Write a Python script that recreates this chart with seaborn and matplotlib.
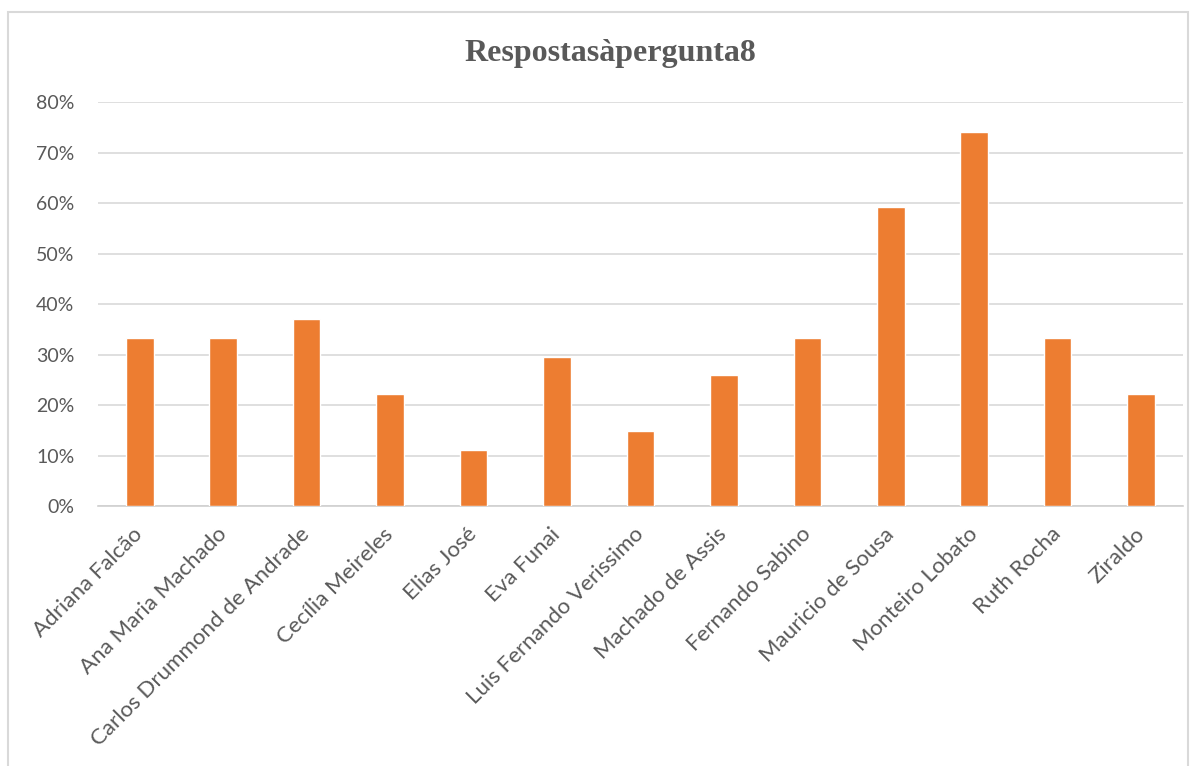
import matplotlib
matplotlib.use("Agg")
import matplotlib.pyplot as plt
from matplotlib.patches import Rectangle
from matplotlib.ticker import PercentFormatter
import seaborn as sns
import pandas as pd

autores = ["Adriana Falcão", "Ana Maria Machado", "Carlos Drummond de Andrade",
           "Cecília Meireles", "Elias José", "Eva Funai", "Luis Fernando Verissimo",
           "Machado de Assis", "Fernando Sabino", "Mauricio de Sousa",
           "Monteiro Lobato", "Ruth Rocha", "Ziraldo"]
percentuais = [33.3, 33.3, 37.0, 22.2, 11.1, 29.6, 14.8, 25.9, 33.3, 59.3, 74.1, 33.3, 22.2]
yticks = [0, 10, 20, 30, 40, 50, 60, 70, 80]

df = pd.DataFrame({"autor": autores, "pct": percentuais})

sns.set_theme(style="white")
plt.rcParams["font.family"] = ["Lato", "DejaVu Sans"]
cinza = "#595959"

fig = plt.figure(figsize=(12, 7.66), dpi=100)
ax = fig.add_axes([0.0817, 0.3394, 0.904, 0.5274])

sns.barplot(data=df, x="autor", y="pct", color="#ED7D31", width=0.33,
            saturation=1, ax=ax, zorder=3)

ax.set_ylim(0, 80)
ax.set_yticks(yticks)
ax.yaxis.set_major_formatter(PercentFormatter(decimals=0))
ax.grid(axis="y", color="#d9d9d9", linewidth=1.2, zorder=0)
ax.set_axisbelow(True)
for s in ["top", "right", "left"]:
    ax.spines[s].set_visible(False)
ax.spines["bottom"].set_color("#d0d0d0")
ax.spines["bottom"].set_linewidth(1.2)
ax.set_xlabel("")
ax.set_ylabel("")
ax.tick_params(axis="y", length=0, pad=17, labelsize=14, labelcolor=cinza)
ax.tick_params(axis="x", length=0, pad=18, labelsize=16, labelcolor=cinza)
plt.setp(ax.get_xticklabels(), rotation=45, ha="right", va="center",
         rotation_mode="anchor")

fig.text(0.509, 0.93, "Respostasàpergunta8", ha="center", va="center",
         fontsize=23, fontweight="bold", color=cinza, family="Liberation Serif")

fig.patches.append(Rectangle((8 / 1200, -0.05), 1180 / 1200, 1.05 - 12 / 766,
                             transform=fig.transFigure, fill=False,
                             edgecolor="#d9d9d9", linewidth=1.5))

fig.savefig("out.png", dpi=100)
